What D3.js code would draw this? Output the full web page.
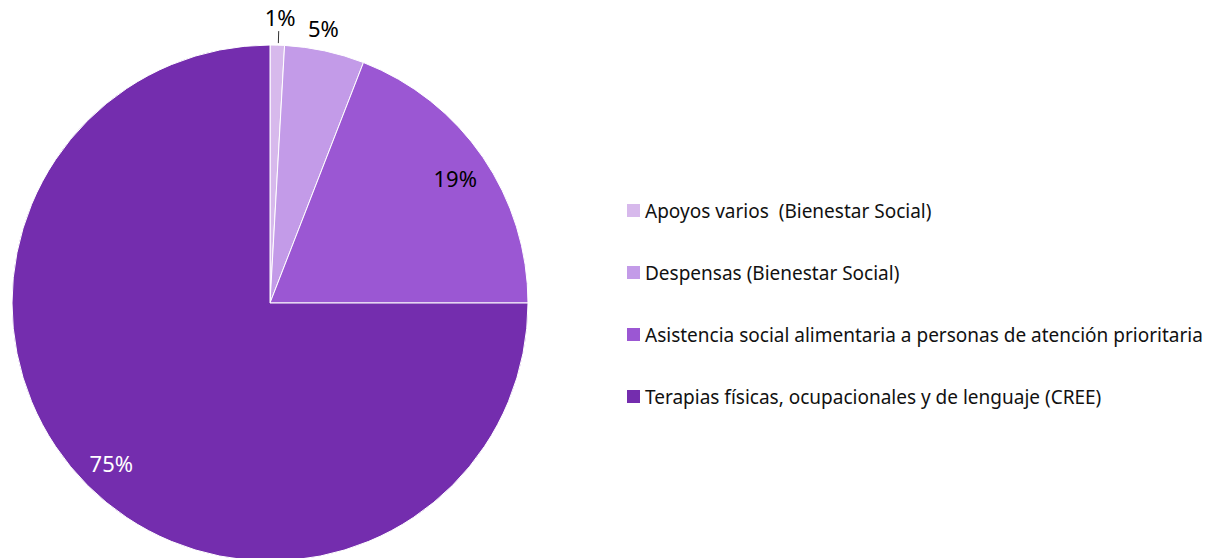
<!DOCTYPE html>
<html>
<head>
<meta charset="utf-8">
<script src="https://cdn.jsdelivr.net/npm/d3@7"></script>
<style>
  body { margin: 0; background: #fff; }
  svg text { font-family: "Noto Sans", sans-serif; white-space: pre; }
</style>
</head>
<body>
<div id="chart"></div>
<script>
var categories = [
  'Apoyos varios  (Bienestar Social)',
  'Despensas (Bienestar Social)',
  'Asistencia social alimentaria a personas de atención prioritaria',
  'Terapias físicas, ocupacionales y de lenguaje (CREE)'
];
var values = [0.9, 5.0, 19.1, 75.0];
var labels = ['1%', '5%', '19%', '75%'];
var colors = ['#d7b9ec', '#c39be8', '#9b57d3', '#742dae'];
var labelColors = ['#000', '#000', '#000', '#fff'];

var width = 1210, height = 558;
var cx = 270, cy = 303, radius = 258;

var svg = d3.select('#chart').append('svg')
  .attr('width', width)
  .attr('height', height);

var data = categories.map(function(c, i) {
  return {name: c, value: values[i], label: labels[i], color: colors[i], lc: labelColors[i]};
});

var pie = d3.pie().sort(null).value(function(d) { return d.value; });
var arcs = pie(data);
var arc = d3.arc().innerRadius(0).outerRadius(radius);
var inArc = d3.arc().innerRadius(radius * 0.87).outerRadius(radius * 0.87);

var g = svg.append('g').attr('transform', 'translate(' + cx + ',' + cy + ')');

g.selectAll('path')
  .data(arcs)
  .enter()
  .append('path')
  .attr('d', arc)
  .attr('fill', function(d) { return d.data.color; })
  .attr('stroke', '#fff')
  .attr('stroke-width', 1);

// labels: big slices inside, small ones outside
arcs.forEach(function(d, i) {
  var mid = (d.startAngle + d.endAngle) / 2;
  var x, y;
  if (d.data.value > 10) {
    var c = inArc.centroid(d);
    x = c[0]; y = c[1] + 3;
  } else if (i == 0) {
    // tiny slice gets a leader line
    var r0 = radius + 2, r1 = radius + 14;
    g.append('line')
      .attr('x1', Math.sin(mid) * r0 + 1).attr('y1', -Math.cos(mid) * r0)
      .attr('x2', Math.sin(mid) * r1 + 1).attr('y2', -Math.cos(mid) * r1)
      .attr('stroke', '#333').attr('stroke-width', 1);
    x = Math.sin(mid) * (radius + 27) + 2; y = -Math.cos(mid) * (radius + 27);
  } else {
    x = Math.sin(mid) * (radius + 22) - 6; y = -Math.cos(mid) * (radius + 22);
  }
  g.append('text')
    .attr('x', x).attr('y', y)
    .attr('text-anchor', 'middle')
    .attr('dy', '0.35em')
    .style('font-size', '22px')
    .attr('fill', d.data.lc)
    .text(d.data.label);
});

// legend
var legend = svg.append('g').attr('transform', 'translate(627,211)');
var rowH = 62;
var items = legend.selectAll('g')
  .data(data)
  .enter()
  .append('g')
  .attr('transform', function(d, i) { return 'translate(0,' + (i * rowH) + ')'; });

items.append('rect')
  .attr('x', 0).attr('y', -7)
  .attr('width', 13).attr('height', 13)
  .attr('fill', function(d) { return d.color; });

items.append('text')
  .attr('x', 18).attr('y', 0)
  .attr('dy', '0.35em')
  .style('font-size', '19px')
  .attr('fill', '#111')
  .text(function(d) { return d.name; });
</script>
</body>
</html>
